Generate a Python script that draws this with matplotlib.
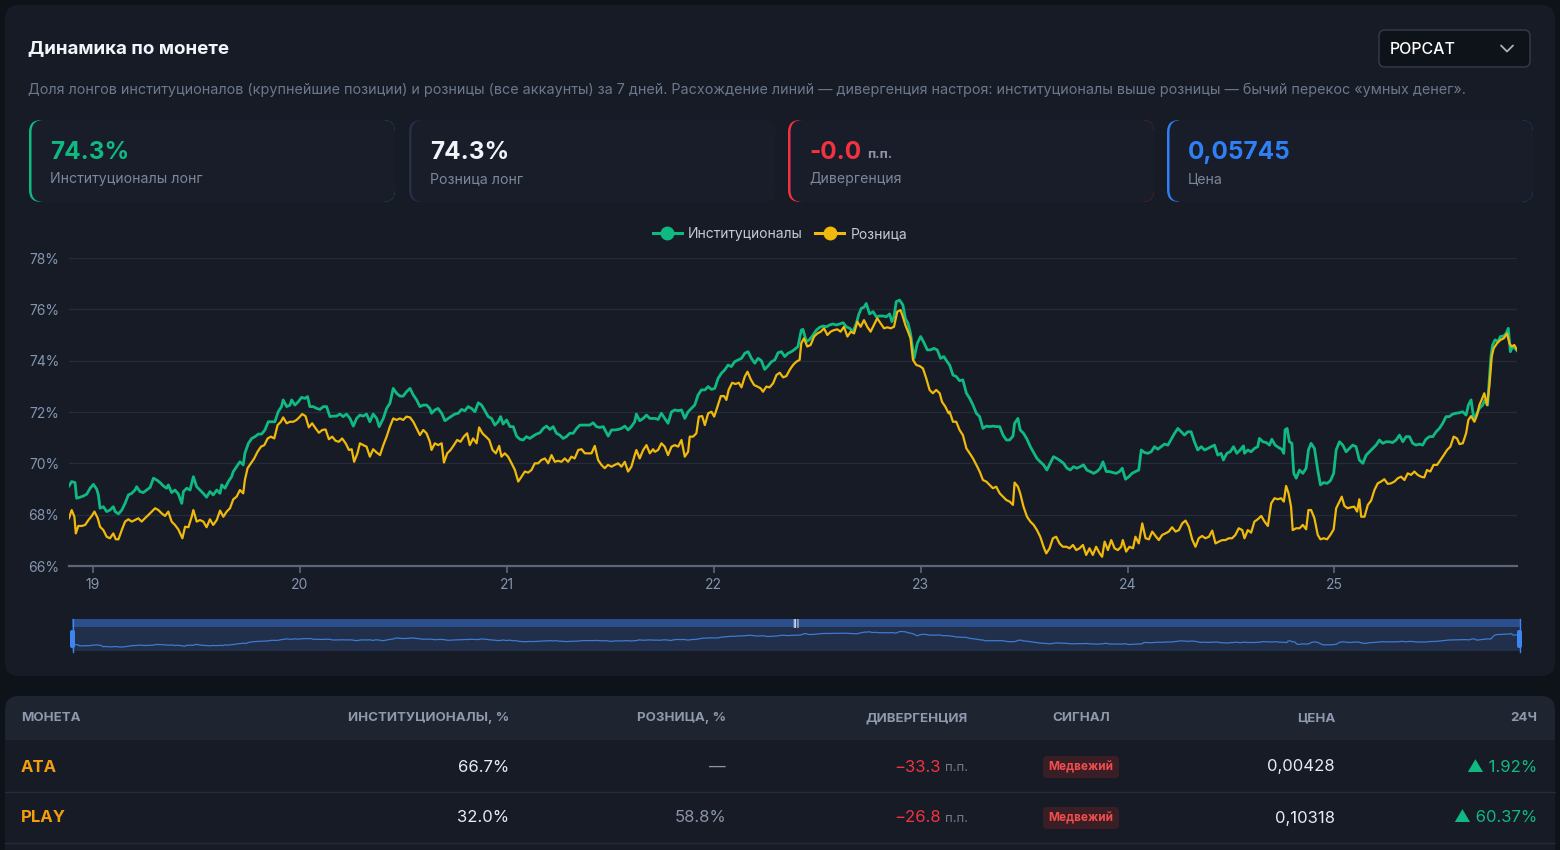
import matplotlib
matplotlib.use("Agg")
import matplotlib.pyplot as plt
from matplotlib.patches import FancyBboxPatch, Rectangle
from matplotlib.lines import Line2D

plt.rcParams['font.family'] = ['Inter', 'DejaVu Sans']

# ---------------- data ----------------
inst_day = [
    18.884, 18.897, 18.913, 18.921, 18.937, 18.954, 18.970, 18.986, 19.002, 19.018, 19.026, 19.034,
    19.050, 19.066, 19.082, 19.098, 19.107, 19.123, 19.139, 19.155, 19.171, 19.187, 19.203, 19.211,
    19.227, 19.243, 19.259, 19.276, 19.292, 19.308, 19.324, 19.340, 19.356, 19.364, 19.380, 19.396,
    19.412, 19.429, 19.437, 19.453, 19.469, 19.485, 19.501, 19.517, 19.533, 19.549, 19.565, 19.581,
    19.598, 19.614, 19.622, 19.638, 19.654, 19.670, 19.678, 19.694, 19.710, 19.726, 19.734, 19.751,
    19.767, 19.783, 19.799, 19.815, 19.831, 19.847, 19.863, 19.879, 19.895, 19.911, 19.919, 19.936,
    19.952, 19.960, 19.976, 19.992, 20.008, 20.024, 20.037, 20.048, 20.064, 20.081, 20.097, 20.113,
    20.129, 20.145, 20.161, 20.177, 20.193, 20.209, 20.225, 20.242, 20.258, 20.274,
    20.290, 20.306, 20.322, 20.338, 20.354, 20.371, 20.383, 20.403, 20.419, 20.435, 20.451, 20.467,
    20.483, 20.499, 20.515, 20.532, 20.548, 20.564, 20.580, 20.596, 20.612, 20.628, 20.636, 20.652,
    20.668, 20.685, 20.701, 20.717, 20.733, 20.749, 20.765, 20.781, 20.797, 20.813, 20.829, 20.846,
    20.862, 20.878, 20.894, 20.910, 20.926, 20.942, 20.958, 20.970, 20.982, 20.999, 21.015, 21.031,
    21.047, 21.063, 21.079, 21.095, 21.111, 21.127, 21.143, 21.160, 21.176, 21.192, 21.208, 21.224,
    21.240, 21.256, 21.272, 21.288, 21.304, 21.321, 21.337, 21.353, 21.369, 21.385, 21.401, 21.417,
    21.433, 21.449, 21.466, 21.490, 21.506, 21.522, 21.538, 21.554, 21.570, 21.586, 21.602, 21.618,
    21.626, 21.642, 21.659, 21.675, 21.691, 21.707,
    21.715, 21.731, 21.747, 21.763, 21.779, 21.796, 21.812, 21.828, 21.844, 21.860, 21.876, 21.892,
    21.908, 21.924, 21.940, 21.957, 21.973, 21.989, 22.005, 22.021, 22.037, 22.053, 22.069, 22.085,
    22.101, 22.118, 22.134, 22.150, 22.166, 22.182, 22.198, 22.214, 22.230, 22.246, 22.262, 22.279,
    22.295, 22.311, 22.327, 22.343, 22.359, 22.375, 22.391, 22.407, 22.423, 22.431, 22.448, 22.464,
    22.480, 22.496, 22.512, 22.528, 22.544, 22.560, 22.576, 22.592, 22.609, 22.625, 22.641, 22.657,
    22.673, 22.689, 22.700, 22.713, 22.726, 22.737, 22.753, 22.770, 22.786, 22.802, 22.818, 22.834,
    22.850, 22.861, 22.871, 22.882, 22.898, 22.914, 22.926, 22.939, 22.951, 22.968, 22.984, 23.000,
    23.016, 23.032, 23.048, 23.064, 23.080, 23.096, 23.112, 23.128,
    23.140, 23.156, 23.172, 23.188, 23.204, 23.221, 23.237, 23.253, 23.269, 23.285, 23.301, 23.317,
    23.333, 23.349, 23.365, 23.382, 23.398, 23.414, 23.430, 23.446, 23.454, 23.470, 23.481, 23.497,
    23.514, 23.530, 23.546, 23.562, 23.578, 23.594, 23.610, 23.626, 23.642, 23.658, 23.675, 23.691,
    23.707, 23.723, 23.739, 23.755, 23.771, 23.787, 23.803, 23.819, 23.836, 23.852, 23.868, 23.881,
    23.897, 23.913, 23.929, 23.945, 23.961, 23.974, 23.990, 24.006, 24.022, 24.038, 24.054, 24.066,
    24.082, 24.098, 24.114, 24.130, 24.146, 24.162, 24.178, 24.195, 24.211, 24.227, 24.243, 24.259,
    24.275, 24.291, 24.307, 24.323, 24.339, 24.356, 24.372, 24.388, 24.404, 24.420, 24.436, 24.452,
    24.463, 24.480, 24.496, 24.512, 24.528, 24.544, 24.560,
    24.565, 24.581, 24.597, 24.613, 24.629, 24.637, 24.654, 24.670, 24.686, 24.697, 24.713, 24.729,
    24.745, 24.755, 24.761, 24.771, 24.782, 24.794, 24.803, 24.815, 24.831, 24.847, 24.863, 24.874,
    24.887, 24.903, 24.919, 24.932, 24.948, 24.964, 24.980, 24.996, 25.008, 25.024, 25.040, 25.056,
    25.072, 25.088, 25.104, 25.120, 25.137, 25.153, 25.169, 25.185, 25.201, 25.217, 25.233, 25.249,
    25.265, 25.281, 25.298, 25.314, 25.330, 25.346, 25.362, 25.378, 25.394, 25.410, 25.426, 25.442,
    25.459, 25.475, 25.491, 25.507, 25.523, 25.539, 25.555, 25.571, 25.587, 25.603, 25.620, 25.636,
    25.647, 25.660, 25.673, 25.684, 25.700, 25.716, 25.727, 25.740, 25.748, 25.756, 25.764, 25.776,
    25.789, 25.802, 25.818, 25.829, 25.840, 25.850, 25.861, 25.872, 25.882,
]
inst_val = [
    69.12, 69.29, 69.25, 68.64, 68.68, 68.73, 68.80, 69.03, 69.18, 68.99, 68.77, 68.25,
    68.31, 68.12, 68.18, 68.31, 68.12, 68.03, 68.18, 68.44, 68.77, 68.83, 68.96, 69.09,
    68.90, 68.86, 68.96, 69.06, 69.42, 69.35, 69.25, 69.12, 69.03, 69.16, 68.86, 68.96,
    68.81, 68.44, 68.90, 69.03, 68.96, 69.48, 69.09, 68.96, 68.83, 68.68, 68.90, 68.77,
    68.96, 68.83, 69.16, 69.03, 69.29, 69.48, 69.68, 69.87, 70.06, 69.94, 70.39, 70.78,
    70.97, 71.04, 71.14, 71.14, 71.30, 71.62, 71.62, 71.62, 72.01, 72.21, 72.47, 72.21,
    72.27, 72.47, 72.27, 72.40, 72.57, 72.53, 72.60, 72.21, 72.21, 72.14, 72.10, 72.21,
    72.21, 71.82, 71.84, 71.84, 71.92, 71.82, 71.92, 71.75, 71.45, 71.75,
    71.88, 71.84, 71.92, 71.62, 71.92, 71.75, 71.43, 71.75, 72.14, 72.34, 72.92, 72.73,
    72.62, 72.62, 72.79, 72.92, 72.66, 72.47, 72.21, 72.27, 72.27, 72.14, 71.95, 72.08,
    72.14, 71.95, 71.66, 71.75, 71.84, 71.92, 71.95, 72.10, 72.05, 72.21, 72.14, 72.01,
    72.36, 72.27, 72.05, 71.82, 71.75, 71.49, 71.62, 71.82, 71.53, 71.69, 71.43, 71.43,
    71.06, 70.94, 70.91, 71.04, 70.97, 71.06, 71.14, 71.19, 71.36, 71.45, 71.32, 71.43,
    71.17, 71.10, 70.97, 71.04, 71.17, 71.17, 71.36, 71.49, 71.49, 71.49, 71.49, 71.58,
    71.43, 71.40, 71.43, 71.06, 71.30, 71.30, 71.32, 71.36, 71.45, 71.30, 71.43, 71.62,
    71.92, 71.66, 71.75, 71.88, 71.75, 71.75,
    71.75, 71.71, 71.95, 71.75, 71.56, 72.01, 72.08, 72.05, 72.08, 71.75, 72.01, 72.14,
    72.27, 72.66, 72.86, 72.86, 72.99, 72.88, 72.92, 73.31, 73.51, 73.64, 73.83, 73.77,
    73.96, 74.03, 74.09, 74.29, 74.35, 74.09, 73.90, 74.09, 74.00, 73.66, 73.79, 73.96,
    74.03, 74.31, 74.35, 74.16, 74.29, 74.35, 74.44, 74.55, 75.19, 75.22, 74.74, 74.83,
    75.00, 75.19, 75.30, 75.35, 75.32, 75.39, 75.43, 75.39, 75.43, 75.48, 75.32, 75.26,
    75.13, 75.45, 75.78, 76.04, 76.08, 76.23, 75.82, 75.91, 75.71, 75.74, 75.74, 75.71,
    75.82, 75.52, 75.71, 76.30, 76.36, 76.17, 75.65, 75.45, 75.06, 74.09, 74.68, 74.94,
    74.70, 74.42, 74.42, 74.48, 74.42, 74.09, 74.16, 73.96,
    73.83, 73.44, 73.38, 73.22, 73.25, 72.73, 72.53, 72.27, 71.95, 71.82, 71.36, 71.45,
    71.43, 71.45, 71.43, 71.43, 71.10, 70.91, 70.91, 71.06, 71.56, 71.75, 71.30, 71.17,
    70.94, 70.65, 70.42, 70.19, 70.06, 69.94, 69.74, 70.00, 70.26, 70.19, 70.10, 70.00,
    69.81, 69.74, 69.87, 69.81, 69.87, 69.94, 69.74, 69.68, 69.61, 69.68, 69.81, 70.06,
    69.68, 69.68, 69.64, 69.61, 69.68, 69.81, 69.38, 69.48, 69.61, 69.68, 69.74, 70.52,
    70.42, 70.39, 70.45, 70.65, 70.55, 70.65, 70.75, 70.71, 70.94, 71.17, 71.36, 71.23,
    71.10, 71.23, 71.23, 70.84, 70.52, 70.65, 70.52, 70.58, 70.65, 70.71, 70.32, 70.39,
    70.13, 70.39, 70.45, 70.65, 70.39, 70.52, 70.68,
    70.39, 70.52, 70.45, 70.58, 70.65, 70.97, 70.84, 70.81, 70.71, 70.94, 70.71, 70.62,
    70.55, 70.39, 71.30, 71.36, 70.84, 70.78, 69.61, 69.42, 69.74, 69.61, 69.81, 70.52,
    70.78, 70.58, 69.74, 69.16, 69.25, 69.22, 69.32, 69.61, 70.52, 70.84, 70.71, 70.45,
    70.58, 70.71, 70.65, 70.13, 70.00, 70.32, 70.45, 70.58, 70.71, 70.91, 70.78, 70.84,
    70.84, 70.81, 70.91, 71.10, 70.84, 71.04, 71.04, 70.78, 70.71, 70.75, 70.71, 70.94,
    71.04, 71.04, 71.23, 71.36, 71.56, 71.82, 71.82, 71.92, 71.95, 71.97, 72.01, 71.88,
    72.27, 72.47, 71.75, 71.88, 72.14, 72.27, 72.47, 72.27, 73.25, 74.16, 74.61, 74.81,
    74.74, 74.94, 74.96, 75.06, 75.26, 74.35, 74.55, 74.48, 74.39,
]
retail_day = [
    18.884, 18.897, 18.910, 18.917, 18.929, 18.946, 18.962, 18.978, 18.994, 19.007, 19.023, 19.034,
    19.050, 19.066, 19.082, 19.098, 19.110, 19.123, 19.139, 19.155, 19.171, 19.187, 19.203, 19.219,
    19.235, 19.251, 19.268, 19.284, 19.300, 19.316, 19.332, 19.348, 19.364, 19.380, 19.396, 19.412,
    19.432, 19.445, 19.461, 19.477, 19.485, 19.501, 19.517, 19.533, 19.549, 19.565, 19.581, 19.598,
    19.614, 19.630, 19.646, 19.662, 19.678, 19.694, 19.710, 19.726, 19.734, 19.747, 19.763, 19.779,
    19.795, 19.812, 19.828, 19.844, 19.860, 19.876, 19.892, 19.908, 19.919, 19.936, 19.952, 19.968,
    19.984, 20.000, 20.011, 20.027, 20.043, 20.059, 20.076, 20.092, 20.108, 20.124, 20.140, 20.156,
    20.172, 20.188, 20.204, 20.221, 20.237, 20.250, 20.262, 20.278,
    20.290, 20.306, 20.322, 20.338, 20.354, 20.371, 20.387, 20.403, 20.419, 20.435, 20.451, 20.467,
    20.483, 20.499, 20.515, 20.532, 20.548, 20.564, 20.580, 20.596, 20.612, 20.628, 20.636, 20.652,
    20.668, 20.685, 20.696, 20.712, 20.728, 20.744, 20.760, 20.776, 20.792, 20.808, 20.821, 20.837,
    20.854, 20.866, 20.882, 20.899, 20.915, 20.931, 20.947, 20.963, 20.974, 20.990, 21.006, 21.023,
    21.039, 21.055, 21.071, 21.087, 21.103, 21.119, 21.135, 21.151, 21.167, 21.184, 21.200, 21.216,
    21.232, 21.248, 21.264, 21.280, 21.296, 21.312, 21.328, 21.345, 21.361, 21.377, 21.393, 21.409,
    21.425, 21.441, 21.457, 21.473, 21.489, 21.506, 21.522, 21.538, 21.554, 21.570, 21.586, 21.602,
    21.618, 21.626, 21.642, 21.659, 21.675, 21.691, 21.707,
    21.715, 21.731, 21.747, 21.763, 21.779, 21.796, 21.812, 21.828, 21.844, 21.860, 21.876, 21.884,
    21.900, 21.916, 21.928, 21.944, 21.957, 21.973, 21.989, 22.002, 22.018, 22.034, 22.050, 22.061,
    22.072, 22.089, 22.105, 22.121, 22.134, 22.150, 22.163, 22.179, 22.195, 22.211, 22.227, 22.238,
    22.254, 22.270, 22.287, 22.303, 22.319, 22.335, 22.351, 22.367, 22.383, 22.399, 22.415, 22.423,
    22.436, 22.452, 22.468, 22.485, 22.501, 22.517, 22.533, 22.549, 22.565, 22.581, 22.597, 22.613,
    22.629, 22.646, 22.662, 22.678, 22.694, 22.710, 22.726, 22.742, 22.758, 22.774, 22.790, 22.807,
    22.823, 22.839, 22.855, 22.871, 22.887, 22.903, 22.914, 22.926, 22.939, 22.951, 22.963, 22.979,
    22.995, 23.011, 23.027, 23.043, 23.059, 23.075, 23.092, 23.103, 23.119, 23.135,
    23.140, 23.156, 23.172, 23.188, 23.204, 23.221, 23.237, 23.253, 23.269, 23.285, 23.301, 23.317,
    23.333, 23.349, 23.365, 23.382, 23.398, 23.414, 23.430, 23.446, 23.454, 23.470, 23.481, 23.497,
    23.514, 23.530, 23.546, 23.562, 23.578, 23.594, 23.607, 23.623, 23.639, 23.655, 23.671, 23.687,
    23.704, 23.720, 23.736, 23.752, 23.768, 23.784, 23.800, 23.816, 23.832, 23.848, 23.865, 23.877,
    23.889, 23.905, 23.921, 23.937, 23.953, 23.969, 23.977, 23.993, 24.009, 24.026, 24.038, 24.054,
    24.071, 24.087, 24.103, 24.119, 24.135, 24.151, 24.167, 24.183, 24.199, 24.215, 24.232, 24.248,
    24.264, 24.280, 24.296, 24.312, 24.328, 24.344, 24.360, 24.376, 24.393, 24.409, 24.425, 24.441,
    24.457, 24.473, 24.489, 24.505, 24.521, 24.537, 24.554,
    24.565, 24.581, 24.597, 24.613, 24.629, 24.646, 24.662, 24.678, 24.694, 24.710, 24.726, 24.742,
    24.755, 24.766, 24.778, 24.790, 24.798, 24.815, 24.831, 24.847, 24.863, 24.874, 24.887, 24.903,
    24.919, 24.932, 24.948, 24.964, 24.980, 24.996, 25.008, 25.024, 25.035, 25.048, 25.064, 25.080,
    25.096, 25.109, 25.120, 25.129, 25.145, 25.161, 25.177, 25.193, 25.209, 25.225, 25.241, 25.257,
    25.273, 25.290, 25.306, 25.322, 25.338, 25.354, 25.370, 25.386, 25.402, 25.418, 25.434, 25.447,
    25.463, 25.479, 25.496, 25.512, 25.528, 25.544, 25.560, 25.576, 25.592, 25.604, 25.620, 25.636,
    25.647, 25.660, 25.676, 25.689, 25.700, 25.711, 25.724, 25.737, 25.748, 25.760, 25.769, 25.786,
    25.802, 25.818, 25.834, 25.845, 25.856, 25.869, 25.882,
]
retail_val = [
    67.86, 68.18, 67.92, 67.27, 67.56, 67.56, 67.60, 67.79, 67.95, 68.12, 67.86, 67.53,
    67.40, 67.14, 67.08, 67.27, 67.04, 67.04, 67.40, 67.73, 67.82, 67.73, 67.79, 67.86,
    67.73, 67.86, 67.99, 68.12, 68.25, 68.18, 68.05, 67.95, 68.12, 67.73, 67.60, 67.43,
    67.08, 67.53, 67.51, 67.92, 68.18, 67.73, 67.79, 67.73, 67.51, 67.82, 67.60, 67.79,
    68.16, 67.92, 68.12, 68.25, 68.60, 68.70, 68.96, 68.83, 69.35, 69.81, 70.00, 70.19,
    70.45, 70.65, 70.71, 70.97, 71.04, 70.97, 71.49, 71.62, 71.79, 71.56, 71.62, 71.62,
    71.69, 71.82, 71.92, 71.84, 71.40, 71.56, 71.36, 71.19, 71.30, 71.32, 70.94, 71.04,
    70.88, 70.84, 70.97, 70.78, 70.52, 70.55, 70.06, 70.39,
    70.78, 70.71, 70.65, 70.26, 70.55, 70.42, 70.32, 70.71, 71.04, 71.43, 71.75, 71.69,
    71.75, 71.69, 71.82, 71.79, 71.62, 71.36, 71.10, 71.30, 71.17, 70.84, 70.52, 70.78,
    70.71, 70.78, 70.03, 70.39, 70.52, 70.71, 70.91, 70.84, 71.04, 71.17, 70.71, 70.97,
    70.78, 71.40, 71.17, 71.04, 70.91, 70.52, 70.39, 70.68, 70.26, 70.39, 70.26, 70.00,
    69.74, 69.29, 69.48, 69.68, 69.64, 69.74, 70.00, 70.00, 70.13, 70.19, 70.00, 70.32,
    70.06, 70.10, 70.06, 70.19, 70.06, 70.26, 70.19, 70.52, 70.55, 70.39, 70.39, 70.39,
    70.68, 70.13, 69.94, 69.81, 69.94, 69.87, 69.94, 70.00, 69.87, 70.06, 69.68, 69.87,
    70.32, 70.52, 70.19, 70.52, 70.71, 70.39, 70.55,
    70.45, 70.52, 70.78, 70.65, 70.32, 70.65, 70.71, 70.65, 70.91, 70.26, 70.45, 71.04,
    71.04, 71.17, 71.82, 71.84, 71.49, 71.95, 72.01, 71.82, 72.21, 72.62, 72.62, 72.47,
    72.86, 73.14, 73.09, 73.14, 72.96, 73.38, 73.57, 73.27, 73.05, 72.99, 72.92, 72.79,
    72.99, 72.96, 73.12, 73.44, 73.53, 73.35, 73.40, 73.64, 73.83, 73.96, 74.03, 74.68,
    74.87, 74.55, 74.61, 74.94, 75.06, 75.13, 75.26, 75.00, 75.13, 75.19, 75.22, 75.13,
    75.32, 74.94, 75.13, 75.06, 75.52, 75.32, 75.58, 75.32, 75.13, 75.39, 75.65, 75.45,
    75.26, 75.30, 75.26, 75.32, 75.91, 75.97, 75.71, 75.39, 75.13, 74.87, 74.03, 73.83,
    73.79, 73.70, 73.31, 72.86, 72.73, 72.86, 72.73, 72.40, 72.21, 71.95,
    72.01, 71.62, 71.62, 71.30, 71.10, 70.58, 70.39, 70.19, 69.94, 69.68, 69.35, 69.29,
    69.16, 69.03, 69.09, 68.83, 68.70, 68.57, 68.51, 68.38, 69.25, 69.09, 68.83, 68.31,
    67.92, 67.73, 67.60, 67.40, 67.14, 66.75, 66.49, 66.69, 67.08, 67.14, 66.88, 66.75,
    66.75, 66.69, 66.82, 66.62, 66.69, 66.82, 66.43, 66.69, 66.43, 66.75, 66.49, 66.36,
    66.95, 66.62, 67.01, 66.69, 66.62, 66.75, 67.01, 66.56, 66.75, 66.69, 67.14, 66.88,
    67.66, 67.08, 67.04, 67.34, 67.17, 67.01, 67.21, 67.27, 67.34, 67.51, 67.34, 67.40,
    67.66, 67.77, 67.53, 67.04, 66.75, 67.08, 67.17, 67.08, 67.14, 67.38, 66.88, 66.95,
    67.01, 67.01, 67.08, 67.08, 67.21, 67.47, 67.40,
    67.08, 67.40, 67.30, 67.73, 67.82, 67.95, 67.73, 67.56, 68.44, 68.64, 68.60, 68.64,
    68.51, 69.12, 68.83, 68.31, 67.40, 67.47, 67.47, 67.60, 67.43, 68.18, 68.18, 67.86,
    67.21, 67.04, 67.08, 67.04, 67.21, 67.43, 68.25, 68.51, 68.70, 68.34, 68.25, 68.29,
    68.31, 68.12, 68.60, 67.92, 67.92, 68.38, 68.55, 68.96, 69.22, 69.29, 69.38, 69.20,
    69.22, 69.29, 69.42, 69.48, 69.35, 69.61, 69.55, 69.68, 69.55, 69.48, 69.45, 69.74,
    69.68, 69.94, 69.94, 70.13, 70.32, 70.52, 70.65, 71.04, 70.97, 70.75, 70.78, 71.17,
    71.69, 71.84, 71.62, 71.88, 72.27, 72.47, 72.73, 72.27, 72.99, 74.16, 74.48, 74.68,
    74.81, 74.87, 75.06, 74.68, 74.55, 74.61, 74.42,
]
day_ticks = [19, 20, 21, 22, 23, 24, 25]
pct_ticks = [66, 68, 70, 72, 74, 76, 78]
series_names = ['Институционалы', 'Розница']

coin = 'POPCAT'
kpi_values = ['74.3%', '74.3%', '-0.0', '0,05745']
kpi_labels = ['Институционалы лонг', 'Розница лонг', 'Дивергенция', 'Цена']

table_headers = ['МОНЕТА', 'ИНСТИТУЦИОНАЛЫ, %', 'РОЗНИЦА, %', 'ДИВЕРГЕНЦИЯ', 'СИГНАЛ', 'ЦЕНА', '24Ч']
table_coins = ['ATA', 'PLAY']
table_inst = ['66.7%', '32.0%']
table_retail = ['—', '58.8%']
table_div = ['−33.3', '−26.8']
table_signal = ['Медвежий', 'Медвежий']
table_price = ['0,00428', '0,10318']
table_change = ['1.92%', '60.37%']

# ---------------- style ----------------
W, H = 1560, 850
PAGE = '#0e1219'
CARD = '#161b26'
GREEN = '#10b981'
YELLOW = '#f0b90b'
RED = '#f2333f'
BLUE = '#2f7ff5'
TICK = '#8596b0'

fig = plt.figure(figsize=(W / 100, H / 100), dpi=100)
fig.patch.set_facecolor(PAGE)

bg = fig.add_axes([0, 0, 1, 1], zorder=0)
bg.set_xlim(0, W)
bg.set_ylim(H, 0)
bg.axis('off')

ov = fig.add_axes([0, 0, 1, 1], zorder=10)
ov.set_xlim(0, W)
ov.set_ylim(H, 0)
ov.axis('off')
ov.patch.set_alpha(0)


def rbox(ax, x, y, w, h, r, fc, ec='none', lw=0, z=1):
    p = FancyBboxPatch((x, y), w, h, boxstyle=f"round,pad=0,rounding_size={r}",
                       fc=fc, ec=ec, lw=lw, zorder=z)
    ax.add_patch(p)
    return p


renderer = fig.canvas.get_renderer()


def text_width(t):
    return t.get_window_extent(renderer=renderer).width


# cards
rbox(bg, 5, 5, 1550, 671, 14, CARD)
rbox(bg, 5, 696, 1550, 190, 14, CARD)
rbox(bg, 5, 696, 1550, 44, 14, '#1e2430', z=2)
bg.add_patch(Rectangle((5, 716), 1550, 24, fc='#1e2430', ec='none', zorder=2))

# header
bg.text(28, 48.5, 'Динамика по монете', fontsize=13.5, fontweight='bold', color='#f1f4f8',
        va='center', zorder=5)
rbox(bg, 1379, 30, 151, 37, 6, PAGE, ec='#343d4d', lw=1, z=3)
bg.text(1390, 49, coin, fontsize=11.5, fontweight='medium', color='#ffffff', va='center', zorder=5)
bg.plot([1501, 1507, 1513], [45.5, 51.5, 45.5], color='#a9b2c1', lw=1.3, zorder=5,
        solid_capstyle='round')
subtitle = ('Доля лонгов институционалов (крупнейшие позиции) и розницы (все аккаунты) за 7 дней. '
            'Расхождение линий — дивергенция настроя: институционалы выше розницы — бычий перекос «умных денег».')
bg.text(28, 90, subtitle, fontsize=10.35, color='#6c788c', va='center', zorder=5)

# KPI cards
kpi_x = [29, 409, 788, 1167]
kpi_accent = [GREEN, '#253045', RED, BLUE]
kpi_color = [GREEN, '#f1f4f8', RED, BLUE]
for i, x0 in enumerate(kpi_x):
    rbox(bg, x0, 120, 366, 82, 12, kpi_accent[i], z=2)
    rbox(bg, x0 + 2.5, 120, 363.5, 82, 12, '#181d29', z=3)
    t = bg.text(x0 + 21, 152, kpi_values[i], fontsize=17.5, fontweight='bold', color=kpi_color[i],
                va='center', zorder=5)
    if i == 2:
        w = text_width(t)
        bg.text(x0 + 21 + w + 6, 155, 'п.п.', fontsize=9.5, fontweight='bold', color='#8a94a6',
                va='center', zorder=5)
    bg.text(x0 + 21, 179, kpi_labels[i], fontsize=10.2, color='#7b879a', va='center', zorder=5)

# main chart
ax = fig.add_axes([69 / W, 1 - 566 / H, (1517 - 69) / W, 308 / H], zorder=2)
ax.set_facecolor('none')
ax.plot(inst_day, inst_val, color=GREEN, lw=2.0, solid_joinstyle='round', zorder=3)
ax.plot(retail_day, retail_val, color=YELLOW, lw=1.6, solid_joinstyle='round', zorder=4)
ax.set_xlim(min(inst_day), max(inst_day))
ax.set_ylim(min(pct_ticks), max(pct_ticks))
ax.set_yticks(pct_ticks)
ax.set_yticklabels([f'{v}%' for v in pct_ticks])
ax.set_xticks(day_ticks)
ax.set_xticklabels([str(d) for d in day_ticks])
ax.grid(axis='y', color='#252c38', lw=1)
ax.set_axisbelow(True)
for s in ['top', 'right', 'left']:
    ax.spines[s].set_visible(False)
ax.spines['bottom'].set_color('#5d6678')
ax.spines['bottom'].set_linewidth(1.6)
ax.tick_params(axis='y', length=0, pad=7, labelcolor=TICK, labelsize=10)
ax.tick_params(axis='x', length=5, width=1.2, color='#5d6678', pad=3.5, labelcolor=TICK,
               labelsize=10)

handles = [Line2D([], [], color=GREEN, lw=2.2, marker='o', markersize=9),
           Line2D([], [], color=YELLOW, lw=2.2, marker='o', markersize=9)]
fig.legend(handles, series_names, loc='center', bbox_to_anchor=(780 / W, 1 - 234 / H), ncol=2,
           frameon=False, fontsize=10, labelcolor='#c3cad6', handlelength=2.1,
           handletextpad=0.45, columnspacing=0.9)

# range slider
bg.add_patch(Rectangle((72, 619), 1448, 8, fc='#2a4f8c', ec='none', zorder=3))
rs = fig.add_axes([72 / W, 1 - 651 / H, 1448 / W, 24 / H], zorder=3)
rs.set_facecolor('#212f4b')
rs.plot(inst_day, inst_val, color='#3b7bd4', lw=0.9)
rs.set_xlim(min(inst_day), max(inst_day))
rs.set_ylim(65.9, 78.8)
rs.set_xticks([])
rs.set_yticks([])
for s in rs.spines.values():
    s.set_visible(False)
for hx in [72.5, 1519.5]:
    ov.plot([hx, hx], [619, 652], color='#3d86f2', lw=1, zorder=11)
    rbox(ov, hx - 2.5, 630, 5, 18, 2, '#3d86f2', z=12)
ov.text(796, 623.5, '|||', fontsize=4.5, color='#dfe6f2', ha='center', va='center',
        fontweight='bold', zorder=12)

# table
col_x = [21, 509, 726, 968, 1081, 1335, 1537]
col_ha = ['left', 'right', 'right', 'right', 'center', 'right', 'right']
for name, x, ha in zip(table_headers, col_x, col_ha):
    bg.text(x, 718, name, fontsize=9.6, fontweight='bold', color='#8d99ad', ha=ha, va='center',
            zorder=5)
row_y = [767, 818]
for i, y in enumerate(row_y):
    bg.text(col_x[0], y, table_coins[i], fontsize=12, fontweight='bold', color='#f59e0b',
            va='center', zorder=5)
    bg.text(col_x[1], y, table_inst[i], fontsize=12, color='#e8ebf0', ha='right', va='center',
            zorder=5)
    bg.text(col_x[2], y, table_retail[i], fontsize=12, color='#8a94a6', ha='right', va='center',
            zorder=5)
    t = bg.text(col_x[3], y + 1, 'п.п.', fontsize=9.5, color='#6f7a8d', ha='right', va='center',
                zorder=5)
    w = text_width(t)
    bg.text(col_x[3] - w - 4, y, table_div[i], fontsize=12, color=RED, ha='right', va='center',
            zorder=5)
    rbox(bg, 1043, y - 11, 76, 22, 4, '#3a1e26', z=4)
    bg.text(col_x[4], y, table_signal[i], fontsize=8.5, fontweight='bold', color='#f24d4d',
            ha='center', va='center', zorder=5)
    bg.text(col_x[5], y, table_price[i], fontsize=12, color='#e8ebf0', ha='right', va='center',
            zorder=5)
    bg.text(col_x[6], y, '▲ ' + table_change[i], fontsize=12, color=GREEN, ha='right',
            va='center', zorder=5)
    bg.plot([5, 1555], [y + 25, y + 25], color='#232b3b', lw=1, zorder=4)

fig.savefig('out.png', dpi=100, facecolor=PAGE)
